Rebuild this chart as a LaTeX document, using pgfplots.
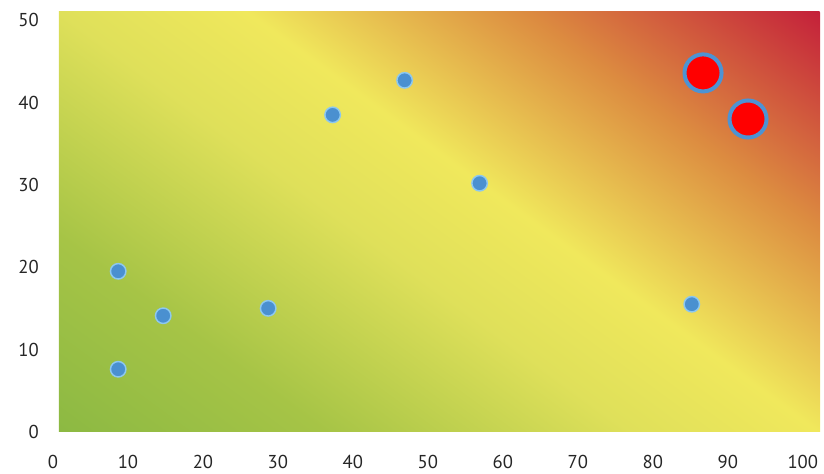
\documentclass[border=0pt]{standalone}
\usepackage{pgfplots}
\pgfplotsset{compat=1.18}
\usepackage{fontspec}
\setmainfont{PT Sans}

\definecolor{g0}{HTML}{8CB943}
\definecolor{g1}{HTML}{A6C446}
\definecolor{g2}{HTML}{DFE05A}
\definecolor{g3}{HTML}{F0E85C}
\definecolor{g4}{HTML}{DC8B40}
\definecolor{g5}{HTML}{C4203A}
\definecolor{dotfill}{HTML}{4A90D0}
\definecolor{dotedge}{HTML}{8CC8F0}
\definecolor{bigedge}{HTML}{4D93D3}

% heat background along its own axis, green -> yellow -> red
\pgfdeclarehorizontalshading{heat}{100bp}{color(0bp)=(g0); color(25bp)=(g0);
  color(35bp)=(g1); color(46.5bp)=(g2); color(53.5bp)=(g3); color(64bp)=(g4);
  color(75bp)=(g5); color(100bp)=(g5)}

\begin{document}
\begin{tikzpicture}
% background: axis box is (0,0)--(571pt,315pt)
\begin{scope}
  \clip (0,0) rectangle (571pt,315pt);
  \begin{scope}[transform canvas={rotate=53.7}]
    \shade[shading=heat] (0pt,-480pt) rectangle (592pt,200pt);
  \end{scope}
\end{scope}
\begin{axis}[
  name=ax,
  at={(0,0)}, anchor=south west,
  scale only axis,
  width=571pt, height=315pt,
  xmin=0, xmax=101.5, ymin=0, ymax=51,
  xtick={0,10,...,100}, ytick={0,10,...,50},
  axis line style={draw=none},
  major tick length=0pt,
  tick style={draw=none},
  /pgf/number format/assume math mode=true,
  ticklabel style={font=\fontsize{14}{16}\selectfont, text=black!85},
  xticklabel style={anchor=center, yshift=-22.5pt, xshift=-4.5pt},
  yticklabel style={anchor=east, inner sep=0pt, xshift=-15pt},
  clip=false,
]
\addplot[only marks, mark=*, mark size=5.8pt,
  mark options={fill=dotfill, draw=dotedge, line width=1.1pt}] coordinates {
  (7.9,19.5) (7.9,7.6) (13.9,14.1) (27.9,15.0) (36.5,38.5)
  (46.1,42.7) (56.1,30.2) (84.4,15.5)
};
\addplot[only marks, mark=*, mark size=13.9pt,
  mark options={fill=red, draw=bigedge, line width=3pt}] coordinates {
  (85.9,43.6) (91.9,38.0)
};
\end{axis}
\useasboundingbox ([xshift=-44.25pt, yshift=-30.75pt]ax.south west)
  rectangle ([xshift=3pt, yshift=9pt]ax.north east);
\end{tikzpicture}
\end{document}
